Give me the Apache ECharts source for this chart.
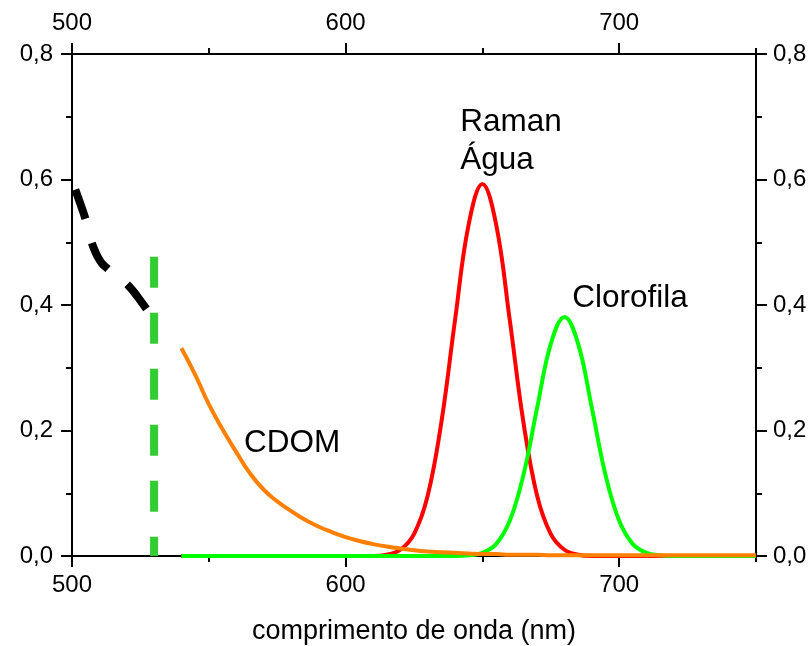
<!DOCTYPE html>
<html>
<head>
<meta charset="utf-8">
<script src="https://cdn.jsdelivr.net/npm/echarts@6/dist/echarts.min.js"></script>
<style>html,body{margin:0;padding:0;background:#fff}#c{width:811px;height:646px}</style>
</head>
<body>
<div id="c"></div>
<script>
// ---- data ----
const wavelengths = [540,545,550,555,560,565,570,575,580,585,590,595,600,605,610,615,620,625,630,635,640,645,650,655,660,665,670,675,680,685,690,695,700,705,710,715,720,725,730,735,740,745,750];
const ramanAgua = [0,0,0,0,0,0,0,0,0,0,0,0,0,0,0,0.002,0.010,0.035,0.096,0.213,0.376,0.529,0.593,0.529,0.376,0.213,0.096,0.035,0.010,0.002,0,0,0,0,0,0,0,0,0,0,0,0,0];
const clorofila = [0,0,0,0,0,0,0,0,0,0,0,0,0,0,0,0,0,0,0,0,0,0.001,0.005,0.019,0.056,0.129,0.236,0.338,0.381,0.338,0.236,0.129,0.056,0.019,0.005,0.001,0,0,0,0,0,0,0];
const cdom = [0.331,0.289,0.242,0.202,0.166,0.132,0.106,0.087,0.072,0.058,0.047,0.038,0.030,0.024,0.019,0.015,0.012,0.009,0.007,0.006,0.005,0.004,0.003,0.003,0.002,0.002,0.002,0.001,0.001,0.001,0.001,0.001,0.001,0.001,0.001,0.001,0.001,0.001,0.001,0.001,0.001,0.001,0.001];
const blackWl = [501.2,503,505,506.5,508,509.5,511,513,515,518,521,524,527,529];
const blackVal = [0.584,0.562,0.536,0.510,0.490,0.476,0.466,0.458,0.451,0.441,0.429,0.413,0.395,0.383];
const markerWl = [530,530];
const markerVal = [0.477,0];
const xMajorTicks = [500,600,700];
const xMinorTicks = [550,650,750];
const yMajorTicks = [0,0.2,0.4,0.6,0.8];
const yMinorTicks = [0.1,0.3,0.5,0.7];
const labelNames = ['Raman\nÁgua','Clorofila','CDOM'];
const labelWl = [641.9,682.8,562.9];
const labelVal = [0.661,0.41,0.18];

// ---- chart ----
const FONT = '"Liberation Sans", Arial, sans-serif';
const pairs = (xs, ys) => xs.map((x,i)=>[x, ys[i]]);
const fmtY = v => v.toFixed(1).replace('.', ',');

function xAxis(pos, major, withName) {
  const base = {
    type:'value', position: pos, min:500, max:750, scale:false,
    splitLine:{show:false},
    axisLine:{show: major, onZero:false, lineStyle:{color:'#000', width:2}},
    axisTick:{show:true, inside:false, length: major?11:6, customValues: major?xMajorTicks:xMinorTicks, lineStyle:{color:'#000', width:2}},
    axisLabel:{show: major, customValues: xMajorTicks, color:'#000', fontSize:24, fontFamily:FONT, margin: pos==='top'?19:17}
  };
  if (withName) {
    base.name = 'comprimento de onda (nm)';
    base.nameLocation = 'middle';
    base.nameGap = 62;
    base.nameTextStyle = {color:'#000', fontSize:27, fontFamily:FONT};
  }
  return base;
}
function yAxis(pos, major) {
  return {
    type:'value', position: pos, min:0, max:0.8,
    splitLine:{show:false},
    axisLine:{show: major, onZero:false, lineStyle:{color:'#000', width:2}},
    axisTick:{show:true, inside:false, length: major?11:6, customValues: major?yMajorTicks:yMinorTicks, lineStyle:{color:'#000', width:2}},
    axisLabel:{show: major, customValues: yMajorTicks, formatter: fmtY, color:'#000', fontSize:24, fontFamily:FONT, margin: pos==='left'?19:17}
  };
}

const chart = echarts.init(document.getElementById('c'), null, {renderer:'canvas'});
chart.setOption({
  backgroundColor:'#fff',
  animation:false,
  grid:{left:72, right:55, top:54, bottom:90, containLabel:false, outerBoundsMode:'none'},
  xAxis:[xAxis('bottom', true, true), xAxis('bottom', false, false), xAxis('top', true, false), xAxis('top', false, false)],
  yAxis:[yAxis('left', true), yAxis('left', false), yAxis('right', true), yAxis('right', false)],
  series:[
    {type:'line', data: pairs(blackWl, blackVal), showSymbol:false, smooth:0.4, lineStyle:{color:'#000', width:8, type:[31,25], cap:'butt'}},
    {type:'line', data: pairs(markerWl, markerVal), showSymbol:false, lineStyle:{color:'#33cc33', width:8, type:[31,25], cap:'butt'}},
    {type:'line', data: pairs(wavelengths, ramanAgua), showSymbol:false, smooth:0.4, lineStyle:{color:'#ff0000', width:4}},
    {type:'line', data: pairs(wavelengths, clorofila), showSymbol:false, smooth:0.4, lineStyle:{color:'#00ff00', width:4}},
    {type:'line', data: pairs(wavelengths, cdom), showSymbol:false, smooth:0.5, lineStyle:{color:'#ff8000', width:4}},
    {type:'scatter', symbolSize:0, silent:true, itemStyle:{opacity:1},
     data: labelNames.map((n,i)=>({name:n, value:[labelWl[i], labelVal[i]]})),
     label:{show:true, position:'right', distance:0, align:'left', verticalAlign:'middle', formatter: p => p.name,
            color:'#000', opacity:1, textBorderWidth:0, fontSize:31.5, fontFamily:FONT, lineHeight:38}}
  ]
});
</script>
</body>
</html>
